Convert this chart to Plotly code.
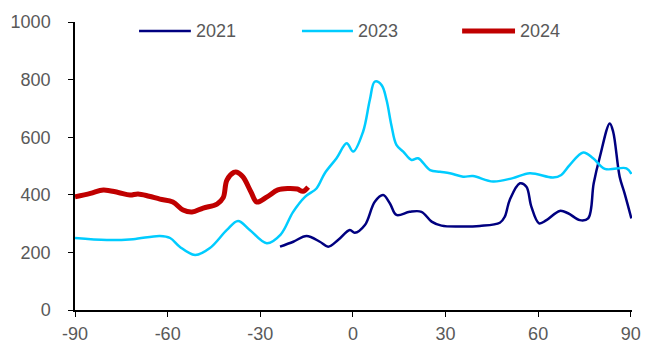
import plotly.graph_objects as go

x2021 = [-23.6,-19.3,-15,-10.7,-8,-4.8,-1,0.6,3.9,7.1,9.8,12,14.1,18.4,22.2,25.5,28.7,35,41.1,47.6,49.2,50.8,54.1,56.2,57.8,60.3,62.7,67,69.7,73.5,76.2,78,80,83.2,84.3,86.4,88,90.2]
y2021 = [220,237,257,237,220,243,278,268,295,376,399,370,330,341,341,307,293,290,292,303,324,382,440,428,359,301,312,344,336,312,318,440,532,648,619,463,405,318]

x2023 = [-90,-79.7,-71.2,-62.5,-59.2,-56,-51.1,-46.3,-40.8,-37.2,-33.4,-27.9,-23.4,-19.4,-15.5,-11.8,-9.1,-5.3,-2,0.1,3.3,5.5,7.1,9.3,10.9,12.5,14.1,16.3,19,21.1,25,28.2,31.4,35.7,38.9,45.4,51.8,57.3,64.8,67.5,70.2,74.6,77.8,81.6,88.6,90.2]
y2023 = [250,243,246,257,250,219,191,215,278,309,278,232,262,340,393,422,475,527,579,550,619,730,793,781,729,640,573,550,521,527,486,480,475,463,465,446,458,475,460,469,503,547,527,490,492,472]

x2024 = [-90,-85,-80.8,-76,-72.2,-69.6,-66,-62.5,-58.3,-55,-52.1,-48.5,-44,-42,-40.8,-38.5,-37.6,-35.6,-33,-31.1,-27.8,-24.3,-21,-18,-16.2,-14.5]
y2024 = [393,405,417,408,399,403,395,385,375,347,340,354,368,390,451,478,479,462,410,375,393,417,422,420,412,427]

xticks = [-90,-60,-30,0,30,60,90]
yticks = [0,200,400,600,800,1000]

series = [
    ("2021", x2021, y2021, "#000080", 2.5),
    ("2023", x2023, y2023, "#00CCFF", 2.5),
    ("2024", x2024, y2024, "#C00000", 5),
]

font = dict(family="Liberation Sans, Arial, sans-serif", size=18, color="#595959")

fig = go.Figure()
for name, xs, ys, color, w in series:
    fig.add_trace(go.Scatter(x=xs, y=ys, name=name, mode="lines",
                             line=dict(color=color, width=w, shape="spline")))

# manual legend (paper coordinates)
legend_pos = [(0.115, 0.208), (0.4075, 0.499), (0.695, 0.790)]
ly = 0.969
shapes = []
annotations = []
for (name, _, _, color, w), (x0, x1) in zip(series, legend_pos):
    shapes.append(dict(type="line", xref="paper", yref="paper", x0=x0, x1=x1, y0=ly, y1=ly,
                       line=dict(color=color, width=w)))
    annotations.append(dict(xref="paper", yref="paper", x=x1 + 0.006, y=ly, text=name,
                            showarrow=False, xanchor="left", yanchor="middle", font=font))

# page body has an 8px default margin; compensate so the plot area lands at the reference position
fig.update_layout(
    width=654, height=351,
    margin=dict(l=67, r=30, t=14, b=49),
    paper_bgcolor="white", plot_bgcolor="white",
    font=font,
    showlegend=False,
    shapes=shapes,
    annotations=annotations,
)
fig.update_xaxes(range=[-90, 90.4], tickvals=xticks, ticktext=[str(v) for v in xticks],
                 showline=True, linecolor="black", linewidth=1.5, ticks="outside",
                 ticklen=5, tickcolor="black", showgrid=False, zeroline=False,
                 tickfont=font, ticklabelstandoff=2, automargin=False)
fig.update_yaxes(range=[0, 1000], tickvals=yticks, ticktext=[str(v) for v in yticks],
                 showline=True, linecolor="black", linewidth=1.5, ticks="outside",
                 ticklen=5, tickcolor="black", showgrid=False, zeroline=False,
                 tickfont=font, ticklabelstandoff=14, automargin=False)
fig.write_html("out.html")
